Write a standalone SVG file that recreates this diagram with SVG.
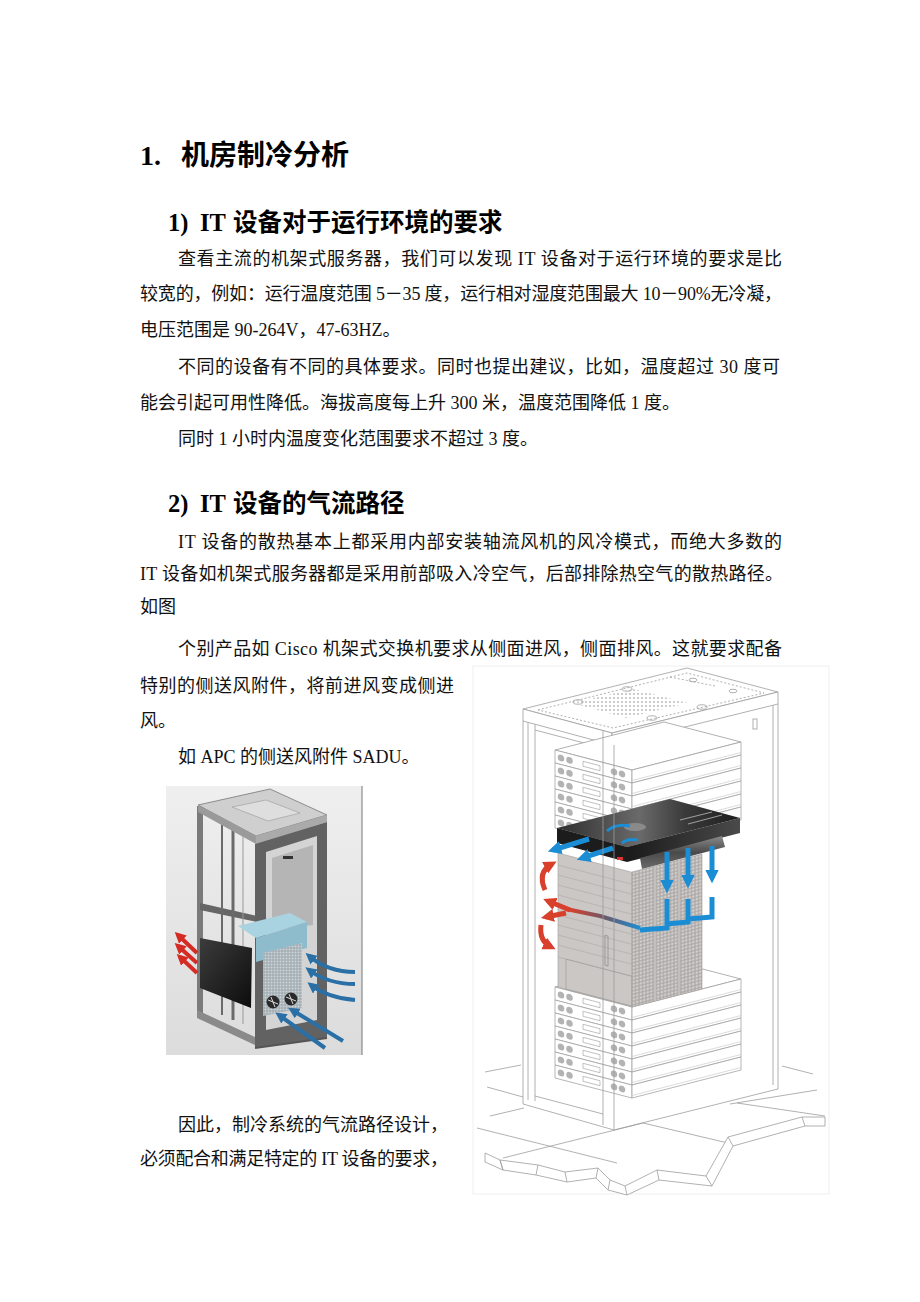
<svg xmlns="http://www.w3.org/2000/svg" width="920" height="1302" viewBox="0 0 920 1302">
<style>
.t{font-family:"Liberation Serif","Noto Sans CJK SC",serif;font-size:18px;fill:#111}
.h{font-family:"Liberation Serif","Noto Sans CJK SC",serif;font-weight:bold;fill:#000}
.ln{fill:none;stroke:#9d9d9d;stroke-width:0.8}
.lw{fill:#fff;stroke:#9d9d9d;stroke-width:0.8}
.bl{fill:none;stroke:#1b8dd5;stroke-width:5}
.rd{fill:none;stroke:#d8402c;stroke-width:5}
.lb{fill:none;stroke:#2a6fa5;stroke-width:4}
.lr{fill:none;stroke:#d62a24;stroke-width:4}
</style>
<defs>
<marker id="mB" viewBox="0 0 10 10" refX="6" refY="5" markerWidth="2.7" markerHeight="2.7" orient="auto" markerUnits="strokeWidth"><path d="M0,0 L10,5 L0,10 z" fill="#1b8dd5"/></marker>
<marker id="mR" viewBox="0 0 10 10" refX="6" refY="5" markerWidth="2.6" markerHeight="2.6" orient="auto" markerUnits="strokeWidth"><path d="M0,0 L10,5 L0,10 z" fill="#d8402c"/></marker>
<marker id="mLB" viewBox="0 0 10 10" refX="6" refY="5" markerWidth="2.8" markerHeight="2.8" orient="auto" markerUnits="strokeWidth"><path d="M0,0 L10,5 L0,10 z" fill="#2a6fa5"/></marker>
<marker id="mLR" viewBox="0 0 10 10" refX="6" refY="5" markerWidth="2.8" markerHeight="2.8" orient="auto" markerUnits="strokeWidth"><path d="M0,0 L10,5 L0,10 z" fill="#d62a24"/></marker>
<pattern id="perf" width="4" height="4" patternUnits="userSpaceOnUse"><circle cx="2" cy="2" r="0.9" fill="#b5b5b5"/></pattern>
<pattern id="grille" width="3.5" height="3.5" patternUnits="userSpaceOnUse"><rect width="3.5" height="3.5" fill="#aaa7a5"/><rect x="0.6" y="0.6" width="2.3" height="2.3" fill="#d3d1cf"/></pattern>
<pattern id="lgrille" width="3" height="3" patternUnits="userSpaceOnUse"><rect width="3" height="3" fill="#9aa5aa"/><rect x="0.5" y="0.5" width="2" height="2" fill="#cdd6da"/></pattern>
<linearGradient id="blkTop" x1="0" y1="0" x2="1" y2="0"><stop offset="0" stop-color="#2e2e2e"/><stop offset="0.45" stop-color="#6a6a6a"/><stop offset="0.7" stop-color="#3a3a3a"/><stop offset="1" stop-color="#1e1e1e"/></linearGradient>
<linearGradient id="blkR" x1="0" y1="0" x2="1" y2="0"><stop offset="0" stop-color="#1a1a1a"/><stop offset="1" stop-color="#4a4a4a"/></linearGradient>
<linearGradient id="duct" x1="0" y1="0" x2="0" y2="1"><stop offset="0" stop-color="#8a8a8a"/><stop offset="0.5" stop-color="#4a4a4a"/><stop offset="1" stop-color="#6a6a6a"/></linearGradient>
<linearGradient id="rb" gradientUnits="userSpaceOnUse" x1="570" y1="0" x2="640" y2="0"><stop offset="0" stop-color="#d8402c"/><stop offset="0.5" stop-color="#6a5a6a"/><stop offset="1" stop-color="#1b8dd5"/></linearGradient>
<linearGradient id="lbg" x1="0" y1="0" x2="0" y2="1"><stop offset="0" stop-color="#efefef"/><stop offset="1" stop-color="#dcdcdc"/></linearGradient>
<linearGradient id="lblk" x1="0" y1="0" x2="1" y2="1"><stop offset="0" stop-color="#3c3c3c"/><stop offset="1" stop-color="#0c0c0c"/></linearGradient>
<g id="sl">
<rect width="77" height="13" fill="#fff" stroke="#9d9d9d" stroke-width="0.7"/>
<circle cx="6" cy="6.5" r="3.3" fill="#b3b3b3"/><circle cx="14.5" cy="6.5" r="3.3" fill="#b3b3b3"/>
<rect x="28" y="4" width="17" height="5" fill="none" stroke="#9d9d9d" stroke-width="0.6"/>
<circle cx="59" cy="6.5" r="3.3" fill="#b3b3b3"/><circle cx="67" cy="6.5" r="3.3" fill="#b3b3b3"/>
</g>
<g id="sr">
<rect width="109" height="13" fill="#fff" stroke="#9d9d9d" stroke-width="0.7"/>
<line x1="0" y1="10.5" x2="109" y2="10.5" stroke="#c8c8c8" stroke-width="0.6"/>
</g>
</defs>
<rect width="920" height="1302" fill="#fff"/>

<g id="text">
<text class="h" y="165" font-size="28"><tspan x="140">1.</tspan><tspan x="181">机房制冷分析</tspan></text>
<text class="h" y="231" font-size="24.5"><tspan x="168">1)</tspan><tspan x="200">IT</tspan><tspan x="233">设备对于运行环境的要求</tspan></text>
<text class="t" x="178" y="265" textLength="604">查看主流的机架式服务器，我们可以发现 IT 设备对于运行环境的要求是比</text>
<text class="t" x="140" y="300" textLength="642">较宽的，例如：运行温度范围 5－35 度，运行相对湿度范围最大 10－90%无冷凝，</text>
<text class="t" x="140" y="336">电压范围是 90-264V，47-63HZ。</text>
<text class="t" x="178" y="373" textLength="602">不同的设备有不同的具体要求。同时也提出建议，比如，温度超过 30 度可</text>
<text class="t" x="140" y="409">能会引起可用性降低。海拔高度每上升 300 米，温度范围降低 1 度。</text>
<text class="t" x="178" y="445">同时 1 小时内温度变化范围要求不超过 3 度。</text>
<text class="h" y="512" font-size="24.5"><tspan x="168">2)</tspan><tspan x="200">IT</tspan><tspan x="233">设备的气流路径</tspan></text>
<text class="t" x="178" y="548" textLength="604">IT 设备的散热基本上都采用内部安装轴流风机的风冷模式，而绝大多数的</text>
<text class="t" x="140" y="580" textLength="643">IT 设备如机架式服务器都是采用前部吸入冷空气，后部排除热空气的散热路径。</text>
<text class="t" x="140" y="613">如图</text>
<text class="t" x="178" y="655" textLength="604">个别产品如 Cisco 机架式交换机要求从侧面进风，侧面排风。这就要求配备</text>
<text class="t" x="140" y="692" textLength="314">特别的侧送风附件，将前进风变成侧进</text>
<text class="t" x="140" y="727">风。</text>
<text class="t" x="178" y="763">如 APC 的侧送风附件 SADU。</text>
<text class="t" x="178" y="1131" textLength="270">因此，制冷系统的气流路径设计，</text>
<text class="t" x="140" y="1165" textLength="308">必须配合和满足特定的 IT 设备的要求，</text>
</g>

<g id="sadu-photo">
<rect x="166" y="786" width="196" height="269" fill="url(#lbg)"/>
<line x1="362" y1="786" x2="362" y2="1055" stroke="#777" stroke-width="1"/>
<polygon points="197,806 203,806 203,1017 197,1015" fill="#7a7a7a"/>
<polygon points="197,1010 257,1038 257,1046 197,1018" fill="#8a8a8a"/>
<polygon points="200,903 257,916 257,922 200,910" fill="#666"/>
<line x1="222" y1="822" x2="222" y2="1015" stroke="#6a6a6a" stroke-width="2"/>
<line x1="233" y1="826" x2="233" y2="1020" stroke="#6a6a6a" stroke-width="3"/>
<line x1="243" y1="830" x2="243" y2="1024" stroke="#999" stroke-width="1"/>
<polygon points="198,805 270,789 327,815 256,836" fill="#cfcfcf" stroke="#777" stroke-width="0.8"/>
<polygon points="232,807 266,800 300,813 268,821" fill="#dedede" stroke="#999" stroke-width="0.6"/>
<polygon points="198,805 256,836 256,844 198,812" fill="#9a9a9a"/>
<polygon points="256,836 327,815 327,822 256,844" fill="#aaa"/>
<polygon points="255,844 327,822 327,1038 255,1048" fill="#626262"/>
<polygon points="266,852 317,836 317,1020 266,1030" fill="#d4d4d4"/>
<polygon points="272,858 313,845 313,925 272,930" fill="#b5b5b5"/>
<rect x="283" y="856" width="10" height="3" fill="#333"/>
<polygon points="238,926 290,913 307,922 256,938" fill="#a9d3e0"/>
<polygon points="256,938 307,922 307,948 256,962" fill="#8fbccc"/>
<polygon points="263,953 302,943 302,1008 263,1016" fill="url(#lgrille)"/>
<polygon points="200,938 252,948 251,1008 200,988" fill="url(#lblk)"/>
<circle cx="273" cy="1002" r="6.5" fill="#2a2a2a"/><circle cx="291" cy="999" r="6.5" fill="#2a2a2a"/>
<path d="M268,1000 L278,1004 M271,997 L275,1007 M286,997 L296,1001 M289,994 L293,1004" stroke="#ddd" stroke-width="1"/>
<line x1="255" y1="1048" x2="327" y2="1038" stroke="#555" stroke-width="2"/>
<line class="lr" x1="197" y1="953" x2="178" y2="935" marker-end="url(#mLR)"/>
<line class="lr" x1="197" y1="963" x2="178" y2="946" marker-end="url(#mLR)"/>
<line class="lr" x1="197" y1="973" x2="180" y2="957" marker-end="url(#mLR)"/>
<path class="lb" d="M355,972 Q328,972 309,956" marker-end="url(#mLB)"/>
<path class="lb" d="M355,984 Q328,984 309,970" marker-end="url(#mLB)"/>
<path class="lb" d="M355,1000 Q328,998 311,985" marker-end="url(#mLB)"/>
<line class="lb" x1="343" y1="1041" x2="292" y2="1010" marker-end="url(#mLB)"/>
<line class="lb" x1="325" y1="1048" x2="279" y2="1015" marker-end="url(#mLB)"/>
</g>

<g id="rack-figure">
<rect x="473" y="666" width="356" height="528" fill="#fff" stroke="#efefef" stroke-width="1"/>
<!-- floor -->
<g id="floor" class="ln">
<polyline points="485,1072 521,1065"/>
<polyline points="487,1087 523,1097"/>
<polyline points="490,1116 524,1108"/>
<polyline points="477,1128 617,1163"/>
<polyline points="503,1158 643,1123"/>
<polyline points="643,1123 728,1143"/>
<polyline points="782,1066 813,1074"/>
<polyline points="817,1090 730,1104"/>
<polyline points="737,1103 825,1116"/>
<polygon class="lw" points="485,1153 500,1160 538,1165 565,1172 598,1168 610,1180 625,1186 657,1170 706,1176 728,1137 802,1117 825,1117 825,1126 805,1126 733,1146 712,1186 659,1180 627,1195 608,1190 596,1178 567,1182 536,1175 503,1170 485,1162"/>
<polyline points="500,1160 503,1170 M538,1165 536,1175"/>
<path d="M500,1160 L503,1170 M538,1165 L536,1175 M565,1172 L567,1182 M598,1168 L596,1178 M610,1180 L608,1190 M625,1186 L627,1195 M657,1170 L659,1180 M706,1176 L712,1186 M728,1137 L733,1146 M802,1117 L805,1126"/>
</g>
<!-- rack back/side posts -->
<g id="rack-frame" class="ln">
<line x1="523" y1="721" x2="523" y2="1104"/>
<line x1="528" y1="722" x2="528" y2="1100"/>
<line x1="535" y1="724" x2="535" y2="1101"/>
<line x1="773" y1="705" x2="773" y2="1085"/>
<line x1="778" y1="704" x2="778" y2="1089"/>
<polyline points="523,1104 614,1130 778,1089"/>
<polyline points="535,1096 603,1114"/>
<polyline points="535,730 603,748"/>
<polygon class="lw" points="523,709 687,668 778,692 612,733"/>
<polygon class="lw" points="523,709 612,733 612,745 523,721"/>
<polygon class="lw" points="612,733 778,692 778,704 612,745"/>
<polygon points="538,710 687,673 764,693 613,728" stroke-dasharray="2,2"/>
<polygon points="572,703 633,689 688,703 626,718" fill="url(#perf)" stroke="none"/>
<ellipse cx="578" cy="702" rx="5" ry="2.2"/>
<ellipse cx="627" cy="689" rx="5" ry="2.2"/>
<ellipse cx="702" cy="707" rx="5" ry="2.2"/>
<ellipse cx="652" cy="718" rx="5" ry="2.2"/>
<ellipse cx="693" cy="680" rx="4" ry="1.8"/>
<ellipse cx="733" cy="691" rx="4" ry="1.8"/>
<polyline points="670,677 715,686 M707,684 757,696" stroke-dasharray="2,2"/>
<rect x="753" y="719" width="4" height="10"/>
<rect x="635" y="745" width="4" height="10"/>
</g>
<!-- upper server stack -->
<g id="upper-stack">
<polygon class="lw" points="555,750 664,722 741,742 632,770"/>
<use href="#sl" transform="translate(555,750) skewY(14.6)"/><use href="#sr" transform="translate(632,770) skewY(-14.4)"/>
<use href="#sl" transform="translate(555,763) skewY(14.6)"/><use href="#sr" transform="translate(632,783) skewY(-14.4)"/>
<use href="#sl" transform="translate(555,776) skewY(14.6)"/><use href="#sr" transform="translate(632,796) skewY(-14.4)"/>
<use href="#sl" transform="translate(555,789) skewY(14.6)"/><use href="#sr" transform="translate(632,809) skewY(-14.4)"/>
<use href="#sl" transform="translate(555,802) skewY(14.6)"/><use href="#sr" transform="translate(632,822) skewY(-14.4)"/>
<use href="#sl" transform="translate(555,815) skewY(14.6)"/><use href="#sr" transform="translate(632,835) skewY(-14.4)"/>
</g>
<!-- lower server stack -->
<g id="lower-stack">
<polygon class="lw" points="555,987 664,959 741,979 632,1007"/>
<use href="#sl" transform="translate(555,987) skewY(14.6)"/><use href="#sr" transform="translate(632,1007) skewY(-14.4)"/>
<use href="#sl" transform="translate(555,1000) skewY(14.6)"/><use href="#sr" transform="translate(632,1020) skewY(-14.4)"/>
<use href="#sl" transform="translate(555,1013) skewY(14.6)"/><use href="#sr" transform="translate(632,1033) skewY(-14.4)"/>
<use href="#sl" transform="translate(555,1026) skewY(14.6)"/><use href="#sr" transform="translate(632,1046) skewY(-14.4)"/>
<use href="#sl" transform="translate(555,1039) skewY(14.6)"/><use href="#sr" transform="translate(632,1059) skewY(-14.4)"/>
<use href="#sl" transform="translate(555,1052) skewY(14.6)"/><use href="#sr" transform="translate(632,1072) skewY(-14.4)"/>
<use href="#sl" transform="translate(555,1065) skewY(14.6)"/><use href="#sr" transform="translate(632,1085) skewY(-14.4)"/>
</g>
<!-- gray equipment -->
<g id="gray-box">
<g transform="translate(558,853) skewY(14.6)">
<rect width="74" height="134" fill="#cbc7c5" stroke="#a5a19f" stroke-width="0.6"/>
<path d="M0,12 H74 M0,22 H74 M0,32 H74 M0,42 H74 M0,52 H74 M0,62 H74 M0,72 H74 M0,82 H74 M0,92 H74 M0,104 H74" stroke="#aeaaa8" stroke-width="0.6"/>
<rect x="8" y="104" width="66" height="30" fill="none" stroke="#a09c9a" stroke-width="0.6"/>
<rect x="47" y="70" width="3" height="30" fill="none" stroke="#8f8b89" stroke-width="0.7"/>
</g>
<g transform="translate(632,872) skewY(-14.4)">
<rect width="70" height="135" fill="url(#grille)" stroke="#a5a19f" stroke-width="0.6"/>
<rect x="22" y="0" width="2" height="135" fill="#c2bfbd"/>
<rect x="46" y="0" width="2" height="135" fill="#c2bfbd"/>
</g>
</g>
<!-- black SADU unit -->
<g id="sadu-unit">
<polygon points="557,828 670,799 740,818 627,847" fill="url(#blkTop)"/>
<polygon points="557,828 627,847 627,862 557,843" fill="#1c1c1c"/>
<polygon points="627,847 740,818 740,833 627,862" fill="url(#blkR)"/>
<ellipse cx="635" cy="827" rx="11" ry="4" fill="#8a8a8a"/>
<path d="M680,820 L712,812 M688,824 L722,815" stroke="#bdbdbd" stroke-width="0.8"/>
<polygon points="640,858 722,836 725,847 642,869" fill="url(#duct)"/>
<rect x="617" y="857" width="6" height="3" fill="#d33"/>
</g>
<!-- airflow arrows -->
<g id="airflow">
<path d="M607,831 Q616,823 630,826" stroke="#1b8dd5" stroke-width="3" fill="none"/>
<path d="M622,843 Q628,838 638,840" stroke="#1b8dd5" stroke-width="3" fill="none"/>
<line class="bl" x1="589" y1="839" x2="553" y2="850" marker-end="url(#mB)" stroke-width="4"/>
<line class="bl" x1="613" y1="848" x2="582" y2="858" marker-end="url(#mB)" stroke-width="4"/>
<line class="bl" x1="667" y1="852" x2="667" y2="888" marker-end="url(#mB)"/>
<line class="bl" x1="688" y1="848" x2="688" y2="883" marker-end="url(#mB)"/>
<line class="bl" x1="712" y1="846" x2="712" y2="878" marker-end="url(#mB)"/>
<polyline class="bl" points="667,899 667,928 640,930"/>
<polyline class="bl" points="688,899 688,922 667,924"/>
<polyline class="bl" points="712,897 712,917 688,919"/>
<path d="M566,909 L600,916 L640,928" stroke="url(#rb)" stroke-width="4" fill="none"/>
<line class="rd" x1="570" y1="910" x2="548" y2="901" marker-end="url(#mR)" stroke-width="4"/>
<line class="rd" x1="566" y1="913" x2="546" y2="917" marker-end="url(#mR)" stroke-width="4"/>
<path class="rd" d="M545,890 Q537,872 552,864" marker-end="url(#mR)"/>
<path class="rd" d="M541,925 Q539,941 551,947" marker-end="url(#mR)"/>
</g>
<!-- front post (drawn over) -->
<g id="front-post" class="ln">
<line x1="603" y1="731" x2="603" y2="1125"/>
<line x1="614" y1="745" x2="614" y2="1130"/>
</g>
</g>
</svg>
